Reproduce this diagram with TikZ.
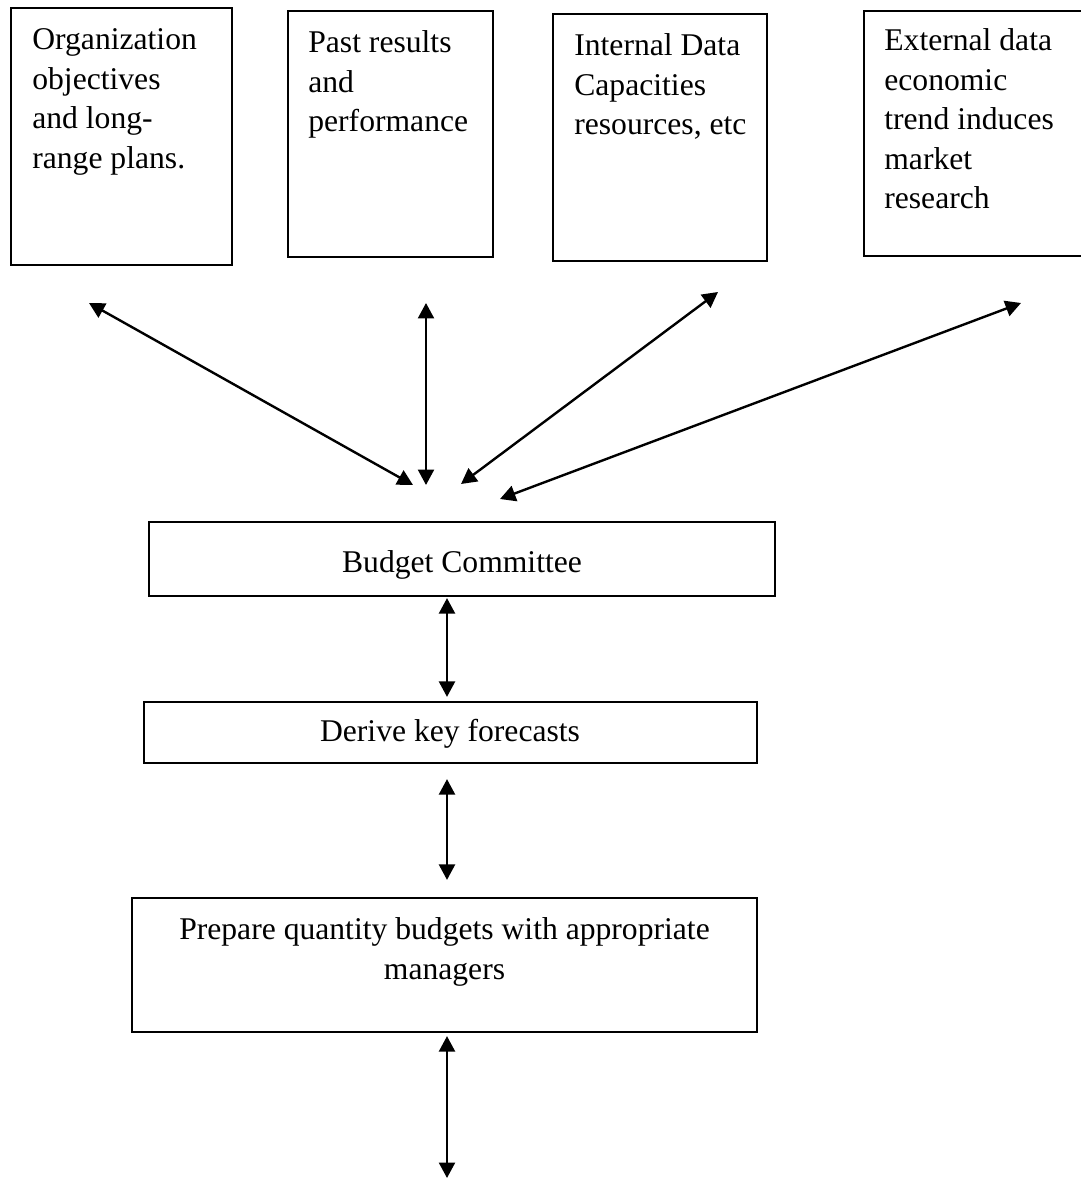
\documentclass[tikz,border=0pt]{standalone}
\usepackage{fontspec}
\setmainfont{Liberation Serif}
\usetikzlibrary{positioning, arrows.meta, calc}
\tikzset{
  every node/.style={font=\fontsize{18pt}{22.5pt}\selectfont},
  box/.style={draw, line width=0.045cm, inner sep=0pt},
  txt/.style={inner sep=0pt, align=left},
  ctxt/.style={inner sep=0pt, align=center},
  arr/.style={{Triangle[length=0.31cm,width=0.32cm]}-{Triangle[length=0.31cm,width=0.32cm]}, line width=0.048cm},
}

\begin{document}
\begin{tikzpicture}[x=0.02cm, y=-0.02cm]
  \useasboundingbox (0,0) rectangle (1081,1179);
  \clip (0,0) rectangle (1081,1179);
  % the four sources (text anchored at its last baseline)
  \node[box, minimum width=4.42cm, minimum height=5.14cm] (org) at (121.5,136.5) {};
  \node[txt, anchor=base west] (orgtxt) at (32,168.5) {Organization\\objectives\\and long-\\range plans.};
  \node[box, minimum width=4.1cm, minimum height=4.92cm] (past) at (390.5,134) {};
  \node[txt, anchor=base west] (pasttxt) at (308,132) {Past results\\and\\performance};
  \node[box, minimum width=4.28cm, minimum height=4.94cm] (int) at (660,137.5) {};
  \node[txt, anchor=base west] (inttxt) at (574,135) {Internal Data\\Capacities\\resources, etc};
  \node[box, minimum width=4.62cm, minimum height=4.9cm] (ext) at (979.5,133.5) {};
  \node[txt, anchor=base west] (exttxt) at (884,209) {External data\\economic\\trend induces\\market\\research};
  % the chain
  \node[box, minimum width=12.52cm, minimum height=1.48cm] (bc) at (462,559) {};
  \node[ctxt, anchor=base] (bctxt) at (462,572) {Budget Committee};
  \node[box, minimum width=12.26cm, minimum height=1.22cm] (dk) at (450.5,732.5) {};
  \node[ctxt, anchor=base] (dktxt) at (450,741) {Derive key forecasts};
  \node[box, minimum width=12.5cm, minimum height=2.68cm] (pq) at (444.5,965) {};
  \node[ctxt, anchor=base] (pqtxt) at (444.5,979) {Prepare quantity budgets with appropriate\\managers};
  % arrow ends
  \coordinate (orgEnd) at (89,303);
  \coordinate (pastEnd) at (426,303);
  \coordinate (intEnd) at (718,292);
  \coordinate (extEnd) at (1021,303);
  \coordinate (orgIn) at (413,485);
  \coordinate (pastIn) at (426,485);
  \coordinate (intIn) at (461,484);
  \coordinate (extIn) at (500,499);
  \coordinate (spine) at (447,0);
  \coordinate (outEnd) at (447,1178);
  \draw[arr] (orgEnd) -- (orgIn);
  \draw[arr] (pastEnd) -- (pastIn);
  \draw[arr] (intEnd) -- (intIn);
  \draw[arr] (extEnd) -- (extIn);
  \draw[arr] ($(spine |- bc.south)+(0,1)$) -- ($(spine |- dk.north)+(0,-4)$);
  \draw[arr] ($(spine |- dk.south)+(0,15)$) -- ($(spine |- pq.north)+(0,-17)$);
  \draw[arr] ($(spine |- pq.south)+(0,3)$) -- (outEnd);
\end{tikzpicture}
\end{document}
